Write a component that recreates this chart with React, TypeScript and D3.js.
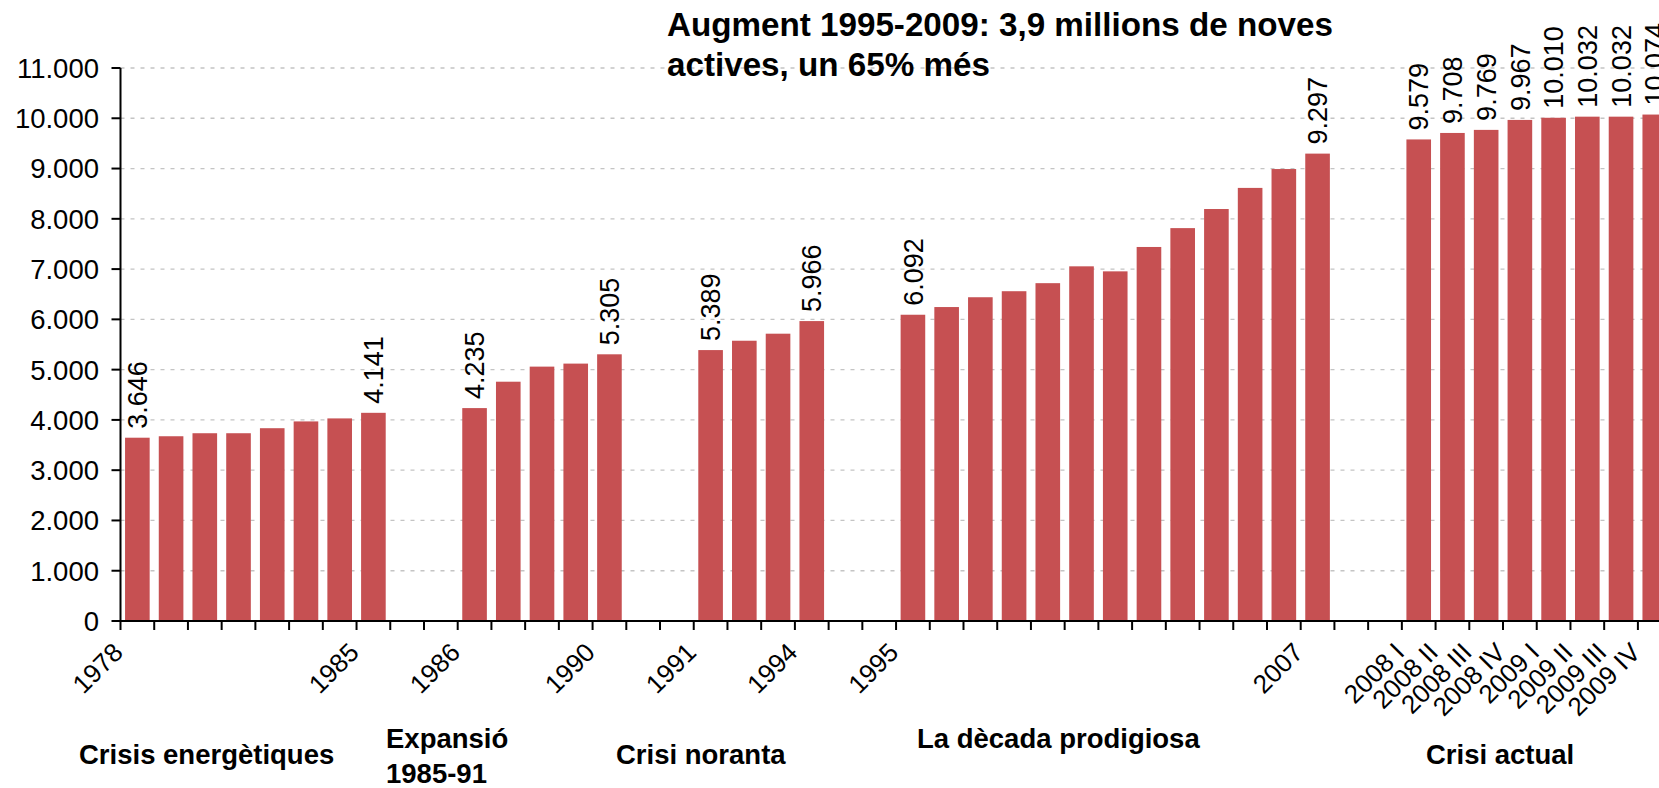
import React from "react";
import * as d3 from "d3";

// ---- data ----
const categories: string[] = [
  "1978", "1979", "1980", "1981", "1982", "1983", "1984", "1985",
  "", "",
  "1986", "1987", "1988", "1989", "1990",
  "", "",
  "1991", "1992", "1993", "1994",
  "", "",
  "1995", "1996", "1997", "1998", "1999", "2000", "2001", "2002", "2003", "2004", "2005", "2006", "2007",
  "", "",
  "2008 I", "2008 II", "2008 III", "2008 IV", "2009 I", "2009 II", "2009 III", "2009 IV",
];

const values: (number | null)[] = [
  3646, 3675, 3735, 3735, 3835, 3970, 4030, 4141,
  null, null,
  4235, 4760, 5060, 5120, 5305,
  null, null,
  5389, 5575, 5715, 5966,
  null, null,
  6092, 6245, 6440, 6560, 6720, 7055, 6955, 7440, 7815, 8195, 8615, 8990, 9297,
  null, null,
  9579, 9708, 9769, 9967, 10010, 10032, 10032, 10074,
];

const tickLabels: string[] = [
  "1978", "1985", "1986", "1990", "1991", "1994", "1995", "2007",
  "2008 I", "2008 II", "2008 III", "2008 IV", "2009 I", "2009 II", "2009 III", "2009 IV",
];

const valueLabelled: string[] = [
  "1978", "1985", "1986", "1990", "1991", "1994", "1995", "2007",
  "2008 I", "2008 II", "2008 III", "2008 IV", "2009 I", "2009 II", "2009 III", "2009 IV",
];

const yTicks: number[] = [0, 1000, 2000, 3000, 4000, 5000, 6000, 7000, 8000, 9000, 10000, 11000];

const titleLines: string[] = ["Augment 1995-2009: 3,9 millions de noves", "actives, un 65% més"];

const groupLabels: string[][] = [
  ["Crisis energètiques"],
  ["Expansió", "1985-91"],
  ["Crisi noranta"],
  ["La dècada prodigiosa"],
  ["Crisi actual"],
];

// ---- layout ----
const W = 1659;
const H = 788;
const X0 = 120.5;
const STEP = 33.72;
const Y0 = 621;
const YTOP = 68;
const FONT = "'Liberation Sans', Arial, Helvetica, sans-serif";
const BAR_COLOR = "#C65052";

const groupPos: [number, number][] = [
  [79, 764],
  [386, 748],
  [616, 764],
  [917, 748],
  [1426, 764],
];

const locale = d3.formatLocale({ decimal: ",", thousands: ".", grouping: [3], currency: ["", ""] });
const fmt = locale.format(",d");

export default function App() {
  const keys = categories.map((c, i) => (c === "" ? `gap${i}` : c));
  const x = d3
    .scaleBand<string>()
    .domain(keys)
    .range([X0, X0 + STEP * keys.length])
    .paddingInner(0.27)
    .paddingOuter(0.135);
  const y = d3.scaleLinear().domain([0, 11000]).range([Y0, YTOP]);
  const step = x.step();
  const slotStart = (k: string) => (x(k) as number) - step * 0.135;

  const boundaries = d3.range(keys.length + 1).map((i) => X0 + i * step);

  const valFont = 27;

  return (
    <svg
      width={W}
      height={H}
      style={{ position: "absolute", left: 0, top: 0, background: "#fff" }}
      fontFamily={FONT}
    >
      {/* gridlines */}
      {yTicks
        .filter((t) => t > 0)
        .map((t) => (
          <line
            key={`g${t}`}
            x1={X0}
            x2={W}
            y1={y(t)}
            y2={y(t)}
            stroke="#C4C4C4"
            strokeWidth={1.3}
            strokeDasharray="4,6"
          />
        ))}

      {/* bars */}
      {keys.map((k, i) => {
        const v = values[i];
        if (v == null) return null;
        return (
          <rect
            key={`b${k}`}
            x={x(k)}
            y={y(v)}
            width={x.bandwidth()}
            height={Y0 - y(v)}
            fill={BAR_COLOR}
          />
        );
      })}

      {/* value labels */}
      {keys.map((k, i) => {
        const v = values[i];
        if (v == null || !valueLabelled.includes(k)) return null;
        const cx = (x(k) as number) + x.bandwidth() / 2 + valFont * 0.36;
        const cy = y(v) - 9;
        return (
          <text
            key={`v${k}`}
            transform={`translate(${cx},${cy}) rotate(-90)`}
            fontSize={valFont}
            textAnchor="start"
            fill="#000"
          >
            {fmt(v)}
          </text>
        );
      })}

      {/* axes */}
      <line x1={X0} x2={X0} y1={YTOP} y2={Y0} stroke="#000" strokeWidth={2} />
      <line x1={X0 - 1} x2={W + 20} y1={Y0} y2={Y0} stroke="#000" strokeWidth={2} />
      {yTicks.map((t) => (
        <g key={`yt${t}`}>
          <line x1={X0 - 9} x2={X0} y1={y(t)} y2={y(t)} stroke="#000" strokeWidth={2} />
          <text x={99} y={y(t)} dy="0.36em" textAnchor="end" fontSize={27.5} fill="#000">
            {fmt(t)}
          </text>
        </g>
      ))}
      {boundaries.map((bx, i) => (
        <line key={`xt${i}`} x1={bx} x2={bx} y1={Y0} y2={Y0 + 9} stroke="#000" strokeWidth={2} />
      ))}

      {/* x tick labels */}
      {keys
        .filter((k) => tickLabels.includes(k))
        .map((k) => (
          <text
            key={`xl${k}`}
            transform={`translate(${slotStart(k) + 4},${Y0 + 33}) rotate(-45)`}
            textAnchor="end"
            fontSize={26}
            fill="#000"
          >
            {k}
          </text>
        ))}

      {/* title */}
      {titleLines.map((t, i) => (
        <text key={`t${i}`} x={667} y={36 + i * 40} fontSize={33.2} fontWeight="bold" fill="#000">
          {t}
        </text>
      ))}

      {/* group labels */}
      {groupLabels.map((lines, gi) => (
        <text key={`gl${gi}`} x={groupPos[gi][0]} y={groupPos[gi][1]} fontSize={27.5} fontWeight="bold" fill="#000">
          {lines.map((l, li) => (
            <tspan key={li} x={groupPos[gi][0]} dy={li === 0 ? 0 : 35}>
              {l}
            </tspan>
          ))}
        </text>
      ))}
    </svg>
  );
}
